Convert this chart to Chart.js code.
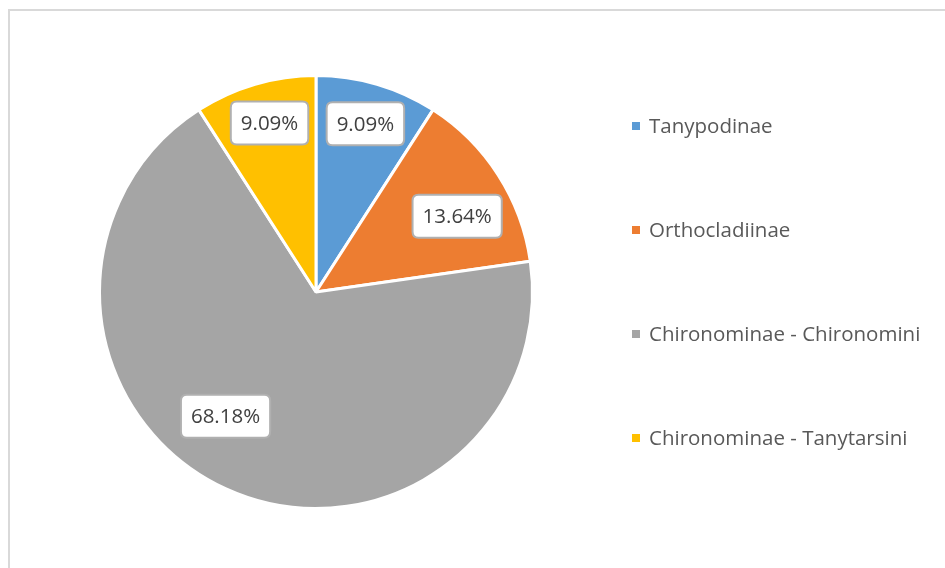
<!DOCTYPE html>
<html>
<head>
<meta charset="utf-8">
<script src="https://cdn.jsdelivr.net/npm/chart.js@4"></script>
<style>
  body { margin: 0; background: #fff; }
  #wrap { position: relative; width: 945px; height: 568px; overflow: hidden; }
  #frame { position: absolute; left: 8px; top: 9px; width: 1000px; height: 700px; border: 2px solid #d9d9d9; }
  #chart { position: absolute; left: 0; top: 0; }
</style>
</head>
<body>
<div id="wrap">
  <div id="frame"></div>
  <canvas id="chart" width="945" height="568"></canvas>
</div>
<script>
// data
const labels = ['Tanypodinae', 'Orthocladiinae', 'Chironominae - Chironomini', 'Chironominae - Tanytarsini'];
const values = [9.09, 13.64, 68.18, 9.09];
const colors = ['#5B9BD5', '#ED7D31', '#A5A5A5', '#FFC000'];

// where each label box sits: radius fraction, angle shift (deg) from slice middle
const labelPos = [[0.81, 0], [0.74, 4.5], [0.71, 11.5], [0.81, 1]];

const FONT = '"Open Sans", sans-serif';

function roundRect(c, x, y, w, h, r){
    c.beginPath();
    c.moveTo(x + r, y);
    c.lineTo(x + w - r, y);
    c.quadraticCurveTo(x + w, y, x + w, y + r);
    c.lineTo(x + w, y + h - r);
    c.quadraticCurveTo(x + w, y + h, x + w - r, y + h);
    c.lineTo(x + r, y + h);
    c.quadraticCurveTo(x, y + h, x, y + h - r);
    c.lineTo(x, y + r);
    c.quadraticCurveTo(x, y, x + r, y);
    c.closePath();
}

//Data labels in boxes
const boxLabels = {
    id: 'boxLabels',
    afterDatasetsDraw(chart){
        const c = chart.ctx;
        const meta = chart.getDatasetMeta(0);
        c.save();
        c.font = '20.5px ' + FONT;
        c.textAlign = 'center';
        c.textBaseline = 'middle';
        meta.data.forEach((arc, i) => {
            const p = arc.getProps(['x', 'y', 'startAngle', 'endAngle', 'outerRadius'], true);
            const a = (p.startAngle + p.endAngle) / 2 + labelPos[i][1] * Math.PI / 180;
            const r = p.outerRadius * labelPos[i][0];
            const x = p.x + Math.cos(a) * r;
            const y = p.y + Math.sin(a) * r;
            const txt = values[i].toFixed(2) + '%';
            const w = c.measureText(txt).width + 20;
            const h = 43;
            roundRect(c, x - w / 2, y - h / 2, w, h, 6);
            c.fillStyle = '#ffffff';
            c.fill();
            c.lineWidth = 2;
            c.strokeStyle = '#b0b0b0';
            c.stroke();
            c.fillStyle = '#404040';
            c.fillText(txt, x, y + 1);
        });
        c.restore();
    }
};

//Legend on the right
const sideLegend = {
    id: 'sideLegend',
    afterDraw(chart){
        const c = chart.ctx;
        c.save();
        c.font = '20.5px ' + FONT;
        c.textBaseline = 'middle';
        c.textAlign = 'left';
        chart.data.labels.forEach((lab, i) => {
            const y = 126 + i * 104;
            c.fillStyle = colors[i];
            c.fillRect(632, y - 4, 8, 8);
            c.fillStyle = '#595959';
            c.fillText(lab, 649, y + 1);
        });
        c.restore();
    }
};

var ctx = document.getElementById('chart').getContext('2d');
var chart = new Chart(ctx, {
    type: 'pie',
    data: {
        labels: labels,
        datasets: [{
            data: values,
            backgroundColor: colors,
            borderColor: '#ffffff',
            borderWidth: 3
        }]
    },
    options: {
        responsive: false,
        animation: false,
        layout: { padding: { left: 98, top: 74, right: 411, bottom: 58 } },
        plugins: {
            legend: { display: false },
            tooltip: { enabled: false }
        }
    },
    plugins: [boxLabels, sideLegend]
});
</script>
</body>
</html>
